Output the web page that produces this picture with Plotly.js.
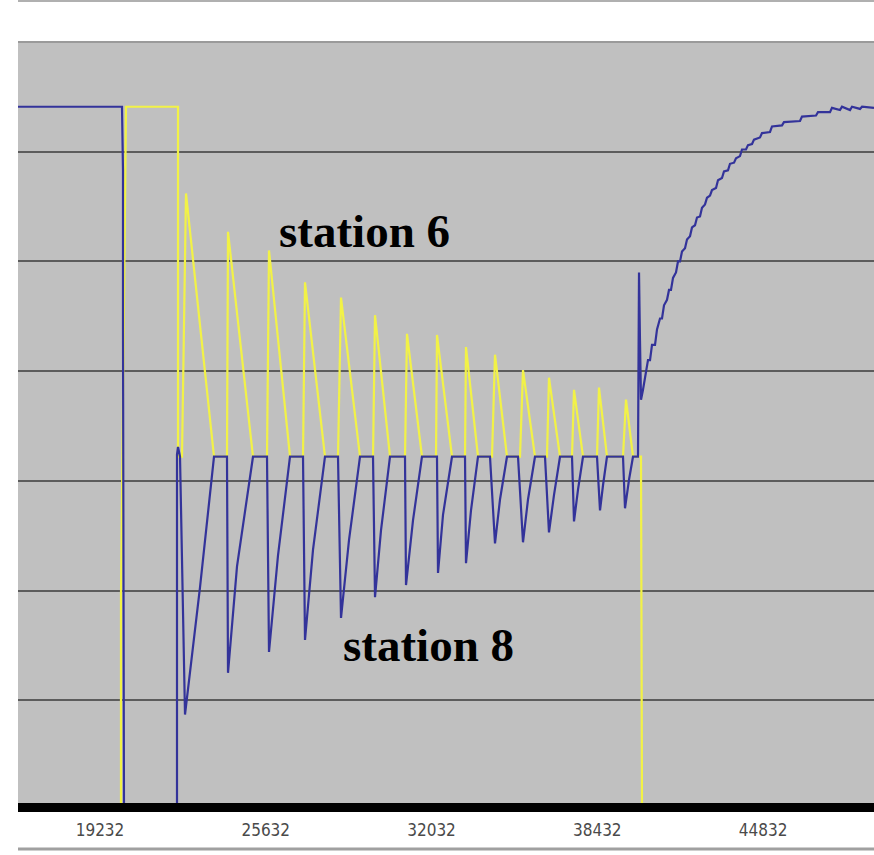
<!DOCTYPE html>
<html>
<head>
<meta charset="utf-8">
<script src="https://cdn.plot.ly/plotly-3.0.1.min.js"></script>
<style>html,body{margin:0;padding:0;background:#fff;}#chart{width:874px;height:855px;}</style>
</head>
<body>
<div id="chart"></div>
<script>
// x tick labels
const tickValues = [19232, 25632, 32032, 38432, 44832];
const tickLabels = ["19232", "25632", "32032", "38432", "44832"];

// station 8 (blue)
const station8X = [16066, 20081, 20120, 20120, 20158, 22205, 22205, 22244, 22321,
  22514, 23093, 23634, 24135, 24174, 24522, 25139, 25680, 25757, 26105, 26568,
  27070, 27147, 27456, 27919, 28421, 28537, 28846, 29271, 29773, 29850, 30082, 30429,
  31008, 31047, 31317, 31664, 32243, 32282, 32475, 32823, 33325, 33363, 33556, 33827,
  34290, 34483, 34676, 34946, 35371, 35564, 35757, 36027, 36413, 36567, 36760, 36993,
  37456, 37533, 37688, 37881, 38421, 38537, 38653, 38807, 39425, 39502, 39657, 39811,
  40004, 40043, 40081, 40120, 40197,
  40390, 40468, 40545, 40661, 40738, 40854, 40931, 41008, 41124, 41201, 41278, 41356,
  41471, 41548, 41626, 41703, 41819, 41896, 42012, 42089, 42205, 42282, 42398, 42475,
  42591, 42668, 42784, 42861, 43016, 43093, 43247, 43324, 43479, 43556, 43711, 43788,
  43942, 44019, 44174, 44251, 44406, 44483, 44715, 44792, 45101, 45178, 45564, 45641,
  46259, 46336, 46877, 46954, 47417, 47494, 47803, 47880, 48190, 48267, 48576, 48653, 49116];
const station8Y = [64.1, 64.1, 58.3, 43.8, 0, 0, 32.4, 33.1, 32.2,
  8.7, 20.3, 32.2, 32.2, 12.5, 22.2, 32.2, 32.2, 14.4, 23.2, 32.2,
  32.2, 15.5, 23.7, 32.2, 32.2, 17.5, 24.6, 32.2, 32.2, 19.4, 25.5, 32.2,
  32.2, 20.5, 26.4, 32.2, 32.2, 21.6, 26.9, 32.2, 32.2, 22.5, 27.3, 32.2,
  32.2, 24.3, 28.3, 32.2, 32.2, 24.4, 28.3, 32.2, 32.2, 25.3, 28.7, 32.2,
  32.2, 26.3, 29.2, 32.2, 32.2, 27.3, 29.6, 32.2, 32.2, 27.5, 30.1, 32.2,
  32.2, 49.0, 42.8, 37.4, 38.3,
  41.0, 41.0, 42.4, 42.4, 43.8, 44.8, 44.8, 46.0, 46.5, 47.4, 47.4, 48.5,
  49.0, 50.0, 50.0, 50.9, 51.2, 52.0, 52.3, 53.1, 53.3, 54.0, 54.1, 54.9,
  55.2, 55.8, 56.0, 56.5, 56.7, 57.4, 57.6, 58.2, 58.3, 58.9, 59.0, 59.4,
  59.6, 60.2, 60.2, 60.6, 60.7, 61.1, 61.3, 61.7, 61.8, 62.3, 62.4, 62.7,
  62.8, 63.2, 63.3, 63.6, 63.6, 64.0, 63.8, 64.1, 63.8, 64.1, 63.9, 64.1, 64.0];

// station 6 (yellow)
const station6X = [16066, 20043, 20043, 20236, 22244, 22244, 22398, 22552, 23634,
  24135, 24174, 25139, 25680, 25757, 26568, 27070, 27147, 27919, 28421, 28537, 29271,
  29773, 29850, 30429, 31008, 31085, 31664, 32205, 32243, 32823, 33325, 33363, 33827,
  34367, 34483, 34946, 35448, 35564, 36027, 36490, 36567, 36993, 37456, 37533, 37881,
  38421, 38498, 38807, 39425, 39541, 39811, 40120, 40158, 49116];
const station6Y = [0, 0, 19.6, 64.1, 64.1, 32.2, 32.2, 56.2, 32.2,
  32.2, 52.7, 32.2, 32.2, 51.0, 32.2, 32.2, 48.1, 32.2, 32.2, 46.7, 32.2,
  32.2, 45.1, 32.2, 32.2, 43.4, 32.2, 32.2, 43.3, 32.2, 32.2, 42.2, 32.2,
  32.2, 41.5, 32.2, 32.2, 40.1, 32.2, 32.2, 39.4, 32.2, 32.2, 38.3, 32.2,
  32.2, 38.5, 32.2, 32.2, 37.4, 32.2, 32.2, 0, 0];

const labels = ["station 6", "station 8"];
const labelX = [29425, 31896];
const labelY = [52.8, 15.0];

const traces = [
  {x: station6X, y: station6Y, type: 'scatter', mode: 'lines', name: labels[0],
   line: {color: '#f2f246', width: 2.2}, hoverinfo: 'skip'},
  {x: station8X, y: station8Y, type: 'scatter', mode: 'lines', name: labels[1],
   line: {color: '#33339a', width: 2.2}, hoverinfo: 'skip'}
];

const layout = {
  width: 874, height: 855,
  margin: {l: 18, r: 0, t: 42, b: 45, pad: 0},
  paper_bgcolor: '#ffffff',
  plot_bgcolor: '#c0c0c0',
  showlegend: false,
  xaxis: {
    range: [16066, 49116],
    tickmode: 'array', tickvals: tickValues, ticktext: tickLabels,
    showgrid: false, zeroline: false, showline: false, ticks: '',
    ticklabelstandoff: 8,
    tickfont: {family: 'Liberation Sans Narrow, Arial Narrow, DejaVu Sans Condensed, sans-serif', size: 17, color: '#4a4a4a'},
    fixedrange: true
  },
  yaxis: {
    range: [0, 70],
    tickmode: 'array', tickvals: [10, 20, 30, 40, 50, 60],
    showticklabels: false, ticks: '',
    showgrid: true, gridcolor: '#5c5c5c', gridwidth: 2,
    zeroline: false, showline: false, fixedrange: true
  },
  shapes: [
    {type: 'line', xref: 'paper', yref: 'paper', x0: 0, x1: 1, y0: 1.0534, y1: 1.0534,
     line: {color: '#b0b0b0', width: 2}},
    {type: 'line', xref: 'paper', yref: 'paper', x0: 0, x1: 1, y0: 1, y1: 1,
     line: {color: '#9a9a9a', width: 2}, layer: 'above'},
    {type: 'line', xref: 'paper', yref: 'paper', x0: 0, x1: 1, y0: 0.0033, y1: 0.0033,
     line: {color: '#000000', width: 9}, layer: 'above'},
    {type: 'line', xref: 'paper', yref: 'paper', x0: 0, x1: 1, y0: -0.0508, y1: -0.0508,
     line: {color: '#a0a0a0', width: 3}}
  ],
  annotations: labels.map((t, i) => ({
    x: labelX[i], y: labelY[i], xref: 'x', yref: 'y', text: '<b>' + t + '</b>',
    showarrow: false, xanchor: 'center', yanchor: 'middle',
    font: {family: 'Liberation Serif, Times New Roman, serif', size: 47, color: '#000000'}
  }))
};

Plotly.newPlot('chart', traces, layout, {staticPlot: true, displayModeBar: false});
</script>
</body>
</html>
